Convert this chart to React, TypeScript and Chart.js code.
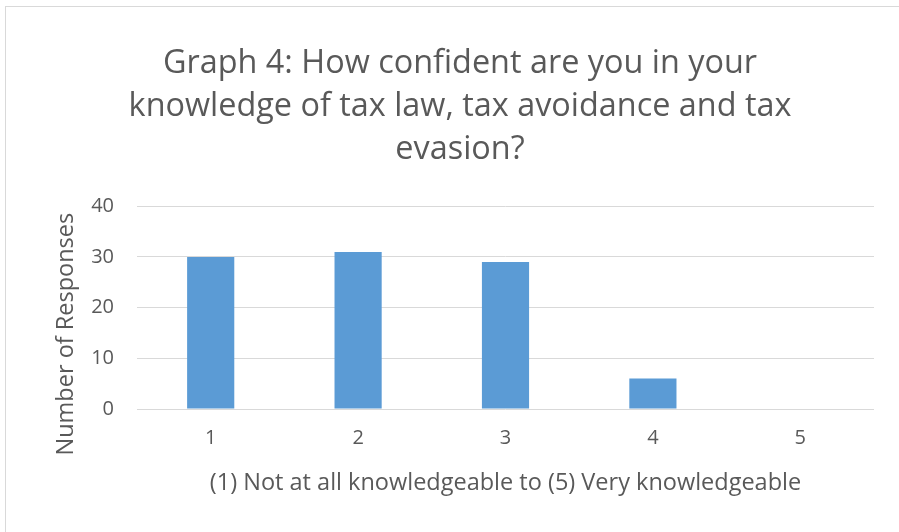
import React, { useEffect, useRef } from "react";
import { Chart, registerables } from "chart.js";

Chart.register(...registerables);

const categories = ["1", "2", "3", "4", "5"];
const responses = [30, 31, 29, 6, 0];
const titleLines = [
  "Graph 4: How confident are you in your",
  "knowledge of tax law, tax avoidance and tax",
  "evasion?",
];
const yAxisTitle = "Number of Responses";
const xAxisTitle = "(1) Not at all knowledgeable to (5) Very knowledgeable";

const TEXT = "#595959";
const GRID = "#d9d9d9";
const BAR = "#5b9bd5";
const FONT = "'Open Sans', Lato, sans-serif";

const borderPlugin = {
  id: "outerBorder",
  beforeDraw(chart: any) {
    const ctx = chart.ctx;
    ctx.save();
    ctx.fillStyle = "#ffffff";
    ctx.fillRect(0, 0, chart.width, chart.height);
    ctx.strokeStyle = GRID;
    ctx.lineWidth = 1;
    ctx.strokeRect(5.5, 6.5, chart.width + 20, chart.height + 20);
    ctx.restore();
  },
};

// Y-axis title centred like Excel does (across plot + category label band)
const yTitlePlugin = {
  id: "yTitle",
  afterDraw(chart: any) {
    const ctx = chart.ctx;
    const area = chart.chartArea;
    const y = (area.top + chart.height - 55) / 2 - 7.5;
    const x = area.left - 71;
    ctx.save();
    ctx.translate(x, y);
    ctx.rotate(-Math.PI / 2);
    ctx.fillStyle = TEXT;
    ctx.font = `23.5px ${FONT}`;
    ctx.textAlign = "center";
    ctx.textBaseline = "middle";
    ctx.fillText(yAxisTitle, 0, 0);
    ctx.restore();
  },
};

export default function App() {
  const ref = useRef<HTMLCanvasElement | null>(null);
  useEffect(() => {
    if (!ref.current) return;
    const chart = new Chart(ref.current, {
      type: "bar",
      data: {
        labels: categories,
        datasets: [
          {
            data: responses,
            backgroundColor: BAR,
            borderWidth: 0,
            barPercentage: 0.32,
            categoryPercentage: 1,
          },
        ],
      },
      plugins: [borderPlugin, yTitlePlugin],
      options: {
        animation: false,
        responsive: false,
        maintainAspectRatio: false,
        devicePixelRatio: 1,
        layout: { padding: { left: 46, right: 25, top: 6, bottom: 0 } },
        plugins: {
          legend: { display: false },
          tooltip: { enabled: false },
          title: {
            display: true,
            text: titleLines,
            color: TEXT,
            font: { family: FONT, size: 32.4, weight: "normal", lineHeight: 1.33 },
            padding: { top: 36, bottom: 35 },
          },
        },
        scales: {
          x: {
            grid: { display: false, drawTicks: false },
            border: { display: false },
            ticks: {
              color: TEXT,
              font: { family: FONT, size: 20 },
              padding: 17,
              maxRotation: 0,
            },
            title: {
              display: true,
              text: xAxisTitle,
              color: TEXT,
              font: { family: FONT, size: 23.5, lineHeight: 1.2 },
              padding: { top: 0, bottom: 35 },
            },
            afterFit(scale: any) {
              scale.height = 123;
            },
          },
          y: {
            min: 0,
            max: 40,
            grid: { color: GRID, lineWidth: 1, drawTicks: false },
            border: { display: false },
            ticks: {
              stepSize: 10,
              color: TEXT,
              font: { family: FONT, size: 20 },
              padding: 23,
            },
            title: { display: false },
            afterFit(scale: any) {
              scale.width = 91;
            },
          },
        },
      },
    });
    return () => chart.destroy();
  }, []);
  return (
    <div style={{ position: "fixed", left: 0, top: 0, width: 899, height: 532, background: "#fff" }}>
      <canvas ref={ref} width={899} height={532} style={{ width: 899, height: 532, display: "block" }} />
    </div>
  );
}
